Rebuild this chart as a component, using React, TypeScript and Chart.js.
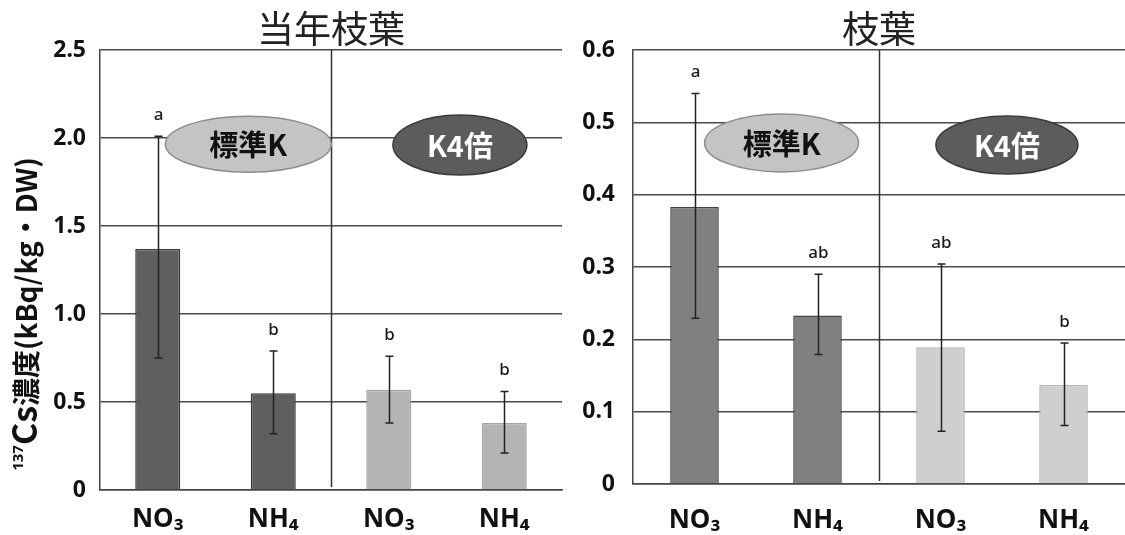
import React, { useEffect, useRef } from "react";
import { Chart, registerables } from "chart.js";

Chart.register(...registerables);

const categories = ["NO₃", "NH₄", "NO₃", "NH₄"];

const leftTitle = "当年枝葉";
const leftMeans = [1.37, 0.55, 0.57, 0.38];
const leftErrHigh = [2.01, 0.79, 0.76, 0.56];
const leftErrLow = [0.75, 0.32, 0.38, 0.21];
const leftLetters = ["a", "b", "b", "b"];
const leftYTicks = [0, 0.5, 1.0, 1.5, 2.0, 2.5];

const rightTitle = "枝葉";
const rightMeans = [0.383, 0.233, 0.189, 0.137];
const rightErrHigh = [0.54, 0.29, 0.304, 0.195];
const rightErrLow = [0.229, 0.179, 0.073, 0.081];
const rightLetters = ["a", "ab", "ab", "b"];
const rightYTicks = [0, 0.1, 0.2, 0.3, 0.4, 0.5, 0.6];

const groupLabels = ["標準K", "K4倍"];
const yAxisTitleParts = ["137", "Cs", "濃度", "(kBq/kg・DW)"];

const CJK = "'Noto Sans CJK JP', 'Noto Sans', sans-serif";
const LAT = "'Noto Sans', 'DejaVu Sans', sans-serif";

type PanelCfg = {
  title: string;
  means: number[];
  hi: number[];
  lo: number[];
  letters: string[];
  ticks: number[];
  colors: string[];
  borders: string[];
  width: number;
  left: number;
  yWidth: number;
  xHeight: number;
  padRight: number;
  tickPad: number;
  labelPad: number;
  barPct: number;
  ellipses: { fx: number; fy: number; rx: number; ry: number }[];
  yTitle: boolean;
};

function Panel(props: { cfg: PanelCfg }) {
  const ref = useRef<HTMLCanvasElement | null>(null);
  const cfg = props.cfg;
  useEffect(() => {
    if (!ref.current) return;
    const maxV = cfg.ticks[cfg.ticks.length - 1];
    const step = cfg.ticks[1] - cfg.ticks[0];

    const overlay = {
      id: "overlay",
      beforeDatasetsDraw(chart: any) {
        const { ctx, chartArea, scales } = chart;
        const xs = scales.x;
        const sx = (xs.getPixelForValue(1) + xs.getPixelForValue(2)) / 2;
        ctx.save();
        ctx.strokeStyle = "#333";
        ctx.lineWidth = 1.5;
        ctx.beginPath();
        ctx.moveTo(Math.round(sx) + 0.5, chartArea.top);
        ctx.lineTo(Math.round(sx) + 0.5, chartArea.bottom - 3);
        ctx.stroke();
        ctx.restore();
      },
      afterDatasetsDraw(chart: any) {
        const { ctx, scales } = chart;
        const xs = scales.x;
        const ys = scales.y;
        ctx.save();
        ctx.strokeStyle = "#222";
        ctx.lineWidth = 1.5;
        cfg.means.forEach((_, i) => {
          const x = Math.round(xs.getPixelForValue(i)) + 0.5;
          const yh = ys.getPixelForValue(cfg.hi[i]);
          const yl = ys.getPixelForValue(cfg.lo[i]);
          ctx.beginPath();
          ctx.moveTo(x, yh);
          ctx.lineTo(x, yl);
          ctx.moveTo(x - 4, yh);
          ctx.lineTo(x + 4, yh);
          ctx.moveTo(x - 4, yl);
          ctx.lineTo(x + 4, yl);
          ctx.stroke();
          ctx.fillStyle = "#1a1a1a";
          ctx.font = "500 17px " + LAT;
          ctx.textAlign = "center";
          ctx.textBaseline = "middle";
          ctx.fillText(cfg.letters[i], x, yh - 21);
        });
        ctx.restore();
      },
      afterDraw(chart: any) {
        const { ctx, chartArea } = chart;
        const w = chartArea.right - chartArea.left;
        const h = chartArea.bottom - chartArea.top;
        ctx.save();
        cfg.ellipses.forEach((e, i) => {
          const cx = chartArea.left + e.fx * w;
          const cy = chartArea.top + e.fy * h;
          ctx.beginPath();
          ctx.ellipse(cx, cy, e.rx, e.ry, 0, 0, Math.PI * 2);
          ctx.fillStyle = i === 0 ? "#c4c4c4" : "#5c5c5c";
          ctx.fill();
          ctx.lineWidth = 1.5;
          ctx.strokeStyle = i === 0 ? "#8c8c8c" : "#3a3a3a";
          ctx.stroke();
          ctx.fillStyle = i === 0 ? "#111" : "#fff";
          ctx.font = "bold 29px " + CJK;
          ctx.textAlign = "center";
          ctx.textBaseline = "middle";
          ctx.fillText(groupLabels[i], cx, cy + 1);
        });
        if (cfg.yTitle) {
          const fonts = [
            "bold 15px " + LAT,
            "bold 34px " + CJK,
            "bold 28px " + CJK,
            "bold 28px " + CJK,
          ];
          const rises = [-14, 0, 0, 0];
          const widths = yAxisTitleParts.map((t, k) => {
            ctx.font = fonts[k];
            return ctx.measureText(t).width;
          });
          const total = widths.reduce((a, b) => a + b, 0);
          const cyc = chartArea.top + h * 0.6;
          ctx.translate(26, cyc);
          ctx.rotate(-Math.PI / 2);
          ctx.fillStyle = "#111";
          ctx.textAlign = "left";
          ctx.textBaseline = "alphabetic";
          let pos = -total / 2;
          yAxisTitleParts.forEach((t, k) => {
            ctx.font = fonts[k];
            ctx.fillText(t, pos, 11 + rises[k]);
            pos += widths[k];
          });
        }
        ctx.restore();
      },
    };

    const chart = new Chart(ref.current, {
      type: "bar",
      data: {
        labels: categories,
        datasets: [
          {
            data: cfg.means,
            backgroundColor: cfg.colors,
            borderColor: cfg.borders,
            borderWidth: 1.5,
            categoryPercentage: 1,
            barPercentage: cfg.barPct,
          },
        ],
      },
      options: {
        responsive: false,
        animation: false,
        layout: { padding: { left: 0, right: cfg.padRight, top: 0, bottom: 0 } },
        plugins: {
          legend: { display: false },
          tooltip: { enabled: false },
          title: {
            display: true,
            text: cfg.title,
            fullSize: false,
            color: "#222",
            font: { family: CJK, size: 37, weight: "normal", lineHeight: 1 },
            padding: { top: 10, bottom: 3 },
          },
        },
        scales: {
          x: {
            grid: { display: false, drawTicks: false },
            border: { display: true, color: "#444", width: 1.5 },
            ticks: {
              color: "#111",
              padding: cfg.labelPad,
              font: { family: LAT, size: 26, weight: "bold" },
              maxRotation: 0,
              autoSkip: false,
            },
            afterFit: (s: any) => {
              s.height = cfg.xHeight;
            },
          },
          y: {
            min: 0,
            max: maxV,
            grid: { color: "#4a4a4a", lineWidth: 1.4, drawTicks: false },
            border: { display: true, color: "#444", width: 1.5 },
            ticks: {
              stepSize: step,
              color: "#111",
              padding: cfg.tickPad,
              font: { family: LAT, size: 23, weight: "bold" },
              callback: (v: any) => (Number(v) === 0 ? "0" : Number(v).toFixed(1)),
            },
            afterFit: (s: any) => {
              s.width = cfg.yWidth;
            },
          },
        },
      },
      plugins: [overlay],
    } as any);
    return () => chart.destroy();
  }, []);
  return (
    <canvas
      ref={ref}
      width={cfg.width}
      height={535}
      style={{ position: "absolute", left: cfg.left, top: 0, width: cfg.width, height: 535 }}
    />
  );
}

const leftCfg: PanelCfg = {
  title: leftTitle,
  means: leftMeans,
  hi: leftErrHigh,
  lo: leftErrLow,
  letters: leftLetters,
  ticks: leftYTicks,
  colors: ["#5f5f5f", "#5f5f5f", "#b4b4b4", "#b4b4b4"],
  borders: ["#3a3a3a", "#3a3a3a", "#a4a4a4", "#a4a4a4"],
  width: 565,
  left: 0,
  yWidth: 100,
  xHeight: 45,
  padRight: 3,
  tickPad: 14,
  labelPad: 14,
  barPct: 0.39,
  ellipses: [
    { fx: 0.321, fy: 0.214, rx: 83, ry: 28 },
    { fx: 0.779, fy: 0.216, rx: 67, ry: 30 },
  ],
  yTitle: true,
};

const rightCfg: PanelCfg = {
  title: rightTitle,
  means: rightMeans,
  hi: rightErrHigh,
  lo: rightErrLow,
  letters: rightLetters,
  ticks: rightYTicks,
  colors: ["#808080", "#808080", "#cfcfcf", "#cfcfcf"],
  borders: ["#444444", "#444444", "#b6b6b6", "#b6b6b6"],
  width: 560,
  left: 565,
  yWidth: 68,
  xHeight: 51,
  padRight: 0,
  tickPad: 18,
  labelPad: 21,
  barPct: 0.395,
  ellipses: [
    { fx: 0.302, fy: 0.214, rx: 77, ry: 29 },
    { fx: 0.76, fy: 0.219, rx: 71, ry: 29 },
  ],
  yTitle: false,
};

export default function App() {
  return (
    <div
      style={{
        position: "absolute",
        left: 0,
        top: 0,
        width: 1125,
        height: 535,
        background: "#fff",
        overflow: "hidden",
      }}
    >
      <Panel cfg={leftCfg} />
      <Panel cfg={rightCfg} />
    </div>
  );
}
